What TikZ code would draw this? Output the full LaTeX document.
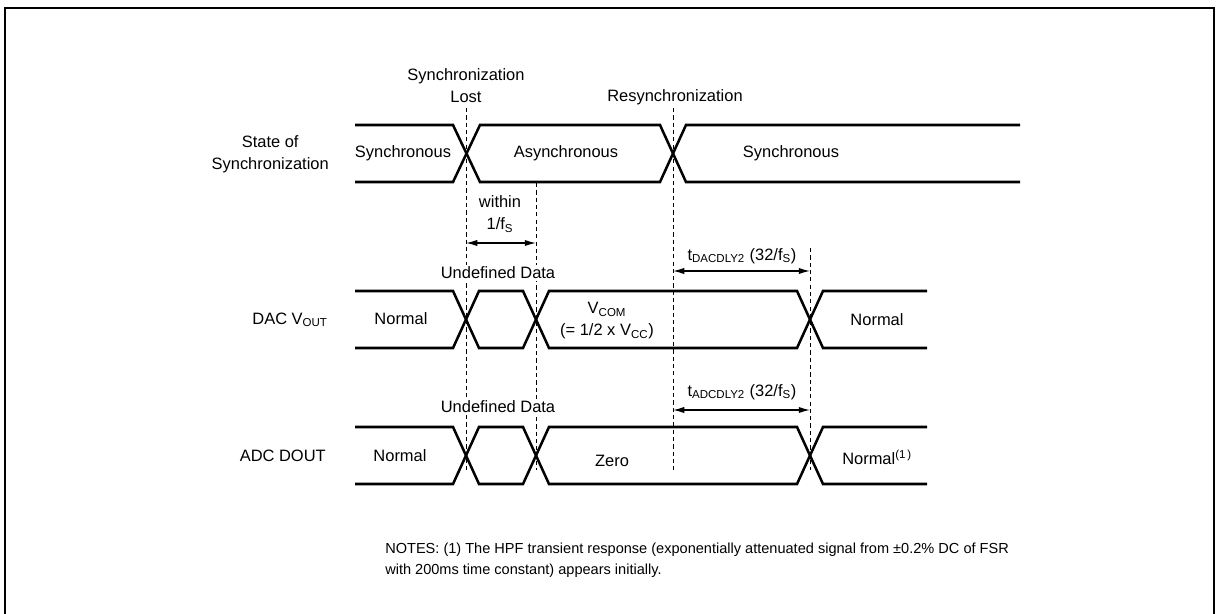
\documentclass[tikz,border=0pt]{standalone}
\usepackage{fontspec}
\setmainfont{Liberation Sans}
\usetikzlibrary{arrows.meta}

\begin{document}
\begin{tikzpicture}[
    x=0.025cm, y=-0.025cm,
    bus/.style={line width=1.8pt, line join=miter},
    guide/.style={line width=0.7pt, dash pattern=on 3pt off 2.2pt},
    dimline/.style={line width=0.9pt, {Latex[length=8pt,width=4.5pt]}-{Latex[length=8pt,width=4.5pt]}},
    lbl/.style={font=\fontsize{11.7}{15.6}\selectfont, align=center, inner sep=0pt},
    rowlbl/.style={lbl, anchor=east},
    undef/.style={lbl, fill=white, inner sep=1.5pt},
    notes/.style={font=\fontsize{10.35}{15}\selectfont, align=left, anchor=west, inner sep=0pt}
]
\useasboundingbox (0,0) rectangle (1219,613);

% Frame
\draw[line width=1.4pt] (5,640) -- (5,8) -- (1214,8) -- (1214,640);

% Guide lines
\coordinate (lostT) at (466,108); \coordinate (lostB) at (466,470);
\coordinate (dataT) at (536,183); \coordinate (dataB) at (536,470);
\coordinate (resT) at (673,108);  \coordinate (resB) at (673,470);
\coordinate (dlyT) at (810,248);  \coordinate (dlyB) at (810,470);
\draw[guide] (lostT) -- (lostB);
\draw[guide] (dataT) -- (dataB);
\draw[guide] (resT) -- (resB);
\draw[guide] (dlyT) -- (dlyB);

\node[lbl] (lost) at (466,86) {Synchronization\\Lost};
\node[lbl] (resync) at (675,97) {Resynchronization};

% State of Synchronization
\node[rowlbl] (statelbl) at (329,154) {State of\\Synchronization};
\draw[bus] (355,125) -- (453,125) -- (480,182) -- (660,182) -- (686,125) -- (1020,125);
\draw[bus] (355,182) -- (453,182) -- (480,125) -- (660,125) -- (686,182) -- (1020,182);
\node[lbl] (sync1) at (403,153) {Synchronous};
\node[lbl] (async) at (566,153) {Asynchronous};
\node[lbl] (sync2) at (791,153) {Synchronous};

% within 1/fs
\node[lbl] (within) at (500,214) {within\\1/f\textsubscript{S}};
\coordinate (wL) at (466,243); \coordinate (wR) at (536,243);
\draw[dimline] (wL) -- (wR);

% DAC VOUT
\node[undef] (undef1) at (498,273) {Undefined Data};
\node[lbl] (tdac) at (742,256) {t\textsubscript{DACDLY2} (32/f\textsubscript{S})};
\coordinate (dacL) at (673,271); \coordinate (dacR) at (810,271);
\draw[dimline] (dacL) -- (dacR);
\node[rowlbl] (daclbl) at (328,320) {DAC V\textsubscript{OUT}};
\draw[bus] (355,291) -- (453,291) -- (479,348) -- (523,348) -- (549,291) -- (797,291) -- (823,348) -- (927,348);
\draw[bus] (355,348) -- (453,348) -- (479,291) -- (523,291) -- (549,348) -- (797,348) -- (823,291) -- (927,291);
\node[lbl] (normal1) at (401,319) {Normal};
\node[lbl] (vcom) at (607,321) {V\textsubscript{COM}\\(= 1/2 x V\textsubscript{CC})};
\node[lbl] (normal2) at (877,320) {Normal};

% ADC DOUT
\node[undef] (undef2) at (498,407) {Undefined Data};
\node[lbl] (tadc) at (742,392) {t\textsubscript{ADCDLY2} (32/f\textsubscript{S})};
\coordinate (adcL) at (673,410); \coordinate (adcR) at (810,410);
\draw[dimline] (adcL) -- (adcR);
\node[rowlbl] (adclbl) at (326,456) {ADC DOUT};
\draw[bus] (355,427) -- (453,427) -- (479,484) -- (523,484) -- (549,427) -- (797,427) -- (823,484) -- (927,484);
\draw[bus] (355,484) -- (453,484) -- (479,427) -- (523,427) -- (549,484) -- (797,484) -- (823,427) -- (927,427);
\node[lbl] (normal3) at (400,456) {Normal};
\node[lbl] (zero) at (612,461) {Zero};
\node[lbl, anchor=west] (normal4) at (842,457) {Normal\textsuperscript{(1\,)}};

% Notes
\node[notes] (notes) at (385,560) {NOTES: (1) The HPF transient response (exponentially attenuated signal from ±0.2\% DC of FSR\\with 200ms time constant) appears initially.};

\end{tikzpicture}
\end{document}
